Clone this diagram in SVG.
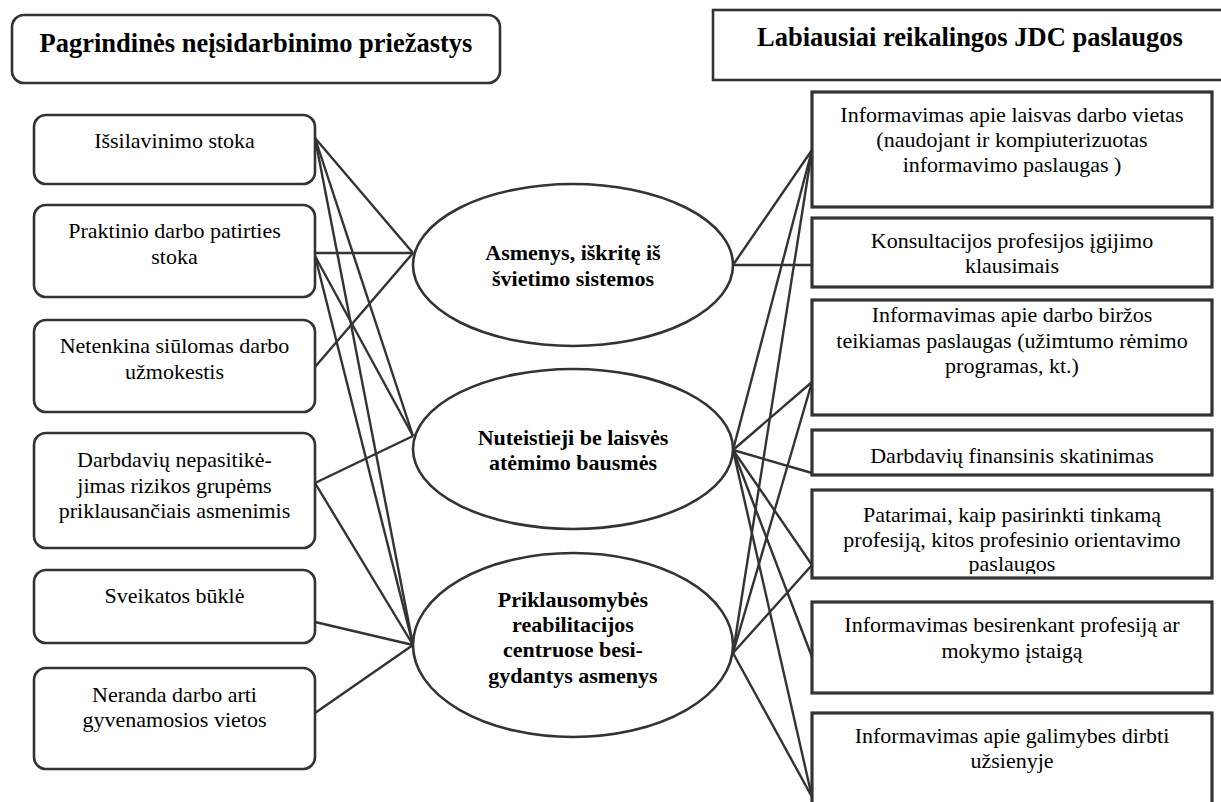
<svg xmlns="http://www.w3.org/2000/svg" width="1221" height="802" viewBox="0 0 1221 802">
<style>
text{font-family:'Liberation Serif','Times New Roman',Tinos,'DejaVu Serif','Noto Serif',serif;fill:#000;text-anchor:middle}
.t{font-size:22px}
.b{font-size:22px;font-weight:bold}
.h{font-size:26.5px;font-weight:bold}
.lb{fill:#fff;stroke:#333;stroke-width:2.6}
.rb{fill:#fff;stroke:#333;stroke-width:3.2}
.el{fill:#fff;stroke:#333;stroke-width:2.6}
.c line{stroke:#333;stroke-width:2.4}
</style>
<defs>
<clipPath id="clipR5"><rect x="812" y="490" width="400" height="84"/></clipPath>
</defs>
<rect width="1221" height="802" fill="#fff"/>

<g id="connectors" class="c">
<line x1="315" y1="138" x2="413" y2="253"/>
<line x1="315" y1="138" x2="413" y2="436"/>
<line x1="315" y1="138" x2="413" y2="645"/>
<line x1="315" y1="253" x2="413" y2="253"/>
<line x1="315" y1="256" x2="413" y2="436"/>
<line x1="315" y1="256" x2="413" y2="645"/>
<line x1="315" y1="367" x2="413" y2="253"/>
<line x1="315" y1="483" x2="413" y2="436"/>
<line x1="315" y1="483" x2="413" y2="645"/>
<line x1="315" y1="622" x2="413" y2="645"/>
<line x1="315" y1="713" x2="413" y2="645"/>
<line x1="733" y1="265" x2="812" y2="150"/>
<line x1="733" y1="265" x2="812" y2="265"/>
<line x1="733" y1="450" x2="812" y2="150"/>
<line x1="733" y1="653" x2="812" y2="150"/>
<line x1="733" y1="450" x2="812" y2="382"/>
<line x1="733" y1="653" x2="812" y2="382"/>
<line x1="733" y1="450" x2="812" y2="473"/>
<line x1="733" y1="450" x2="812" y2="565"/>
<line x1="733" y1="450" x2="812" y2="657"/>
<line x1="733" y1="450" x2="812" y2="797"/>
<line x1="733" y1="653" x2="812" y2="565"/>
<line x1="733" y1="653" x2="812" y2="797"/>
</g>

<g id="title-left">
<rect class="lb" x="12" y="15" width="488" height="68" rx="12"/>
<text class="h" x="256" y="52">Pagrindinės neįsidarbinimo priežastys</text>
</g>
<g id="title-right">
<rect class="lb" x="713" y="10" width="514" height="70"/>
<text class="h" x="970" y="46">Labiausiai reikalingos JDC paslaugos</text>
</g>

<g id="cause1">
<rect class="lb" x="34" y="115" width="281" height="69" rx="12"/>
<text class="t" x="174.5" y="148">Išsilavinimo stoka</text>
</g>
<g id="cause2">
<rect class="lb" x="34" y="205" width="281" height="92" rx="12"/>
<text class="t" x="174.5" y="238">Praktinio darbo patirties</text>
<text class="t" x="174.5" y="264">stoka</text>
</g>
<g id="cause3">
<rect class="lb" x="34" y="320" width="281" height="92" rx="12"/>
<text class="t" x="174.5" y="353">Netenkina siūlomas darbo</text>
<text class="t" x="174.5" y="379">užmokestis</text>
</g>
<g id="cause4">
<rect class="lb" x="34" y="433" width="281" height="115" rx="12"/>
<text class="t" x="174.5" y="467">Darbdavių nepasitikė-</text>
<text class="t" x="174.5" y="493">jimas rizikos grupėms</text>
<text class="t" x="174.5" y="518">priklausančiais asmenimis</text>
</g>
<g id="cause5">
<rect class="lb" x="34" y="570" width="281" height="73" rx="12"/>
<text class="t" x="174.5" y="603">Sveikatos būklė</text>
</g>
<g id="cause6">
<rect class="lb" x="34" y="668" width="281" height="101" rx="12"/>
<text class="t" x="174.5" y="702">Neranda darbo arti</text>
<text class="t" x="174.5" y="727">gyvenamosios vietos</text>
</g>

<g id="group1">
<ellipse class="el" cx="573" cy="265" rx="160" ry="81"/>
<text class="b" x="573" y="260">Asmenys, iškritę iš</text>
<text class="b" x="573" y="286">švietimo sistemos</text>
</g>
<g id="group2">
<ellipse class="el" cx="573" cy="449" rx="160" ry="80"/>
<text class="b" x="573" y="445">Nuteistieji be laisvės</text>
<text class="b" x="573" y="470">atėmimo bausmės</text>
</g>
<g id="group3">
<ellipse class="el" cx="573" cy="645" rx="160" ry="92"/>
<text class="b" x="573" y="607">Priklausomybės</text>
<text class="b" x="573" y="632">reabilitacijos</text>
<text class="b" x="573" y="657">centruose besi-</text>
<text class="b" x="573" y="683">gydantys asmenys</text>
</g>

<g id="service1">
<rect class="rb" x="812" y="92" width="400" height="115"/>
<text class="t" x="1012" y="122">Informavimas apie laisvas darbo vietas</text>
<text class="t" x="1012" y="147">(naudojant ir kompiuterizuotas</text>
<text class="t" x="1012" y="172">informavimo paslaugas )</text>
</g>
<g id="service2">
<rect class="rb" x="812" y="218" width="400" height="69"/>
<text class="t" x="1012" y="248">Konsultacijos profesijos įgijimo</text>
<text class="t" x="1012" y="273">klausimais</text>
</g>
<g id="service3">
<rect class="rb" x="812" y="300" width="400" height="115"/>
<text class="t" x="1012" y="322">Informavimas apie darbo biržos</text>
<text class="t" x="1012" y="348">teikiamas paslaugas (užimtumo rėmimo</text>
<text class="t" x="1012" y="373">programas, kt.)</text>
</g>
<g id="service4">
<rect class="rb" x="812" y="430" width="400" height="45"/>
<text class="t" x="1012" y="463">Darbdavių finansinis skatinimas</text>
</g>
<g id="service5">
<rect class="rb" x="812" y="490" width="400" height="88"/>
<g clip-path="url(#clipR5)">
<text class="t" x="1012" y="522">Patarimai, kaip pasirinkti tinkamą</text>
<text class="t" x="1012" y="547">profesiją, kitos profesinio orientavimo</text>
<text class="t" x="1012" y="571">paslaugos</text>
</g>
</g>
<g id="service6">
<rect class="rb" x="812" y="602" width="400" height="91"/>
<text class="t" x="1012" y="632">Informavimas besirenkant profesiją ar</text>
<text class="t" x="1012" y="658">mokymo įstaigą</text>
</g>
<g id="service7">
<rect class="rb" x="812" y="713" width="400" height="100"/>
<text class="t" x="1012" y="743">Informavimas apie galimybes dirbti</text>
<text class="t" x="1012" y="768">užsienyje</text>
</g>
</svg>
